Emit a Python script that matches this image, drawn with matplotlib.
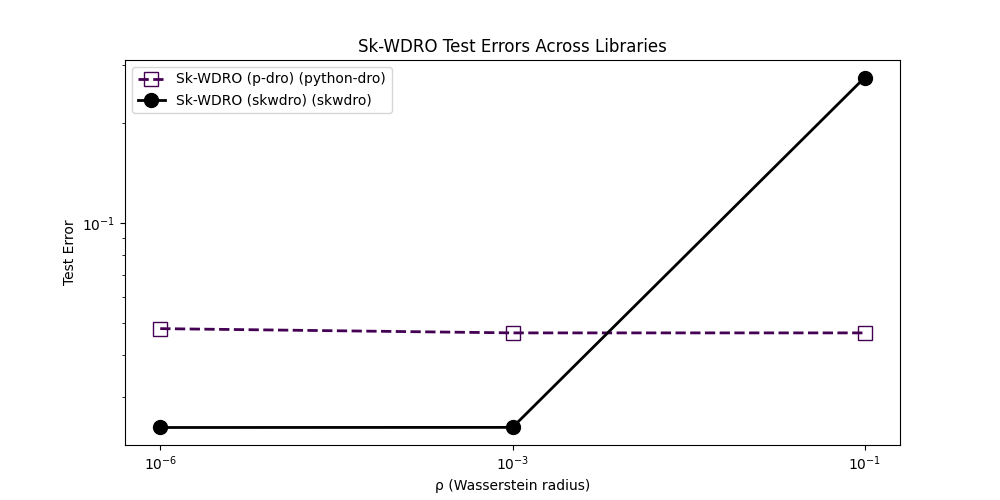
import matplotlib
matplotlib.use("Agg")
from matplotlib import pyplot

rho_labels = [r"$10^{-6}$", r"$10^{-3}$", r"$10^{-1}$"]
pdro_errors = [0.0481, 0.0467, 0.0467]
skwdro_errors = [0.02423, 0.02425, 0.2745]

fig, ax = pyplot.subplots(figsize=(10, 5), dpi=100)

x = list(range(len(rho_labels)))

ax.plot(
    x,
    pdro_errors,
    linestyle="--",
    marker="s",
    color="#440154",
    markerfacecolor="none",
    markersize=10,
    linewidth=2,
    label="Sk-WDRO (p-dro) (python-dro)",
)
ax.plot(
    x,
    skwdro_errors,
    linestyle="-",
    marker="o",
    color="black",
    markersize=10,
    linewidth=2,
    label="Sk-WDRO (skwdro) (skwdro)",
)

ax.set_yscale("log")
ax.set_xticks(x)
ax.set_xticklabels(rho_labels)

ax.set_title("Sk-WDRO Test Errors Across Libraries")
ax.set_xlabel("ρ (Wasserstein radius)")
ax.set_ylabel("Test Error")
ax.legend(loc="upper left")

fig.savefig("out.png")
